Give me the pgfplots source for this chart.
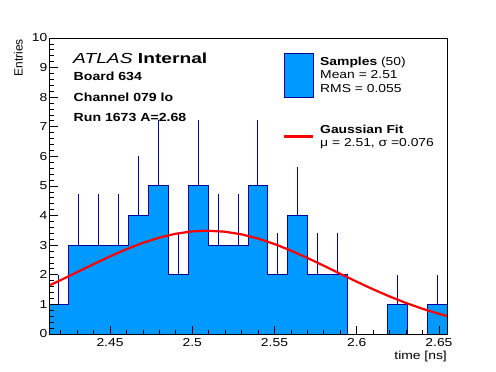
\documentclass[border=0pt]{standalone}
\usepackage{graphicx}
\usepackage{pgfplots}
\pgfplotsset{compat=1.18}
\usepackage{fontspec}
\setmainfont{Liberation Sans}[FakeStretch=1.2]
\newfontfamily\plainsans{Liberation Sans}
\definecolor{histfill}{RGB}{0,153,255}
\definecolor{histline}{RGB}{0,0,153}
\definecolor{fitred}{RGB}{255,0,0}
\pgfplotsset{
  histlegend/.style={legend image code/.code={\draw[##1] (0bp,-22bp) rectangle (29bp,22bp);}},
  fitlegend/.style={legend image code/.code={\draw[##1] (0bp,0bp) -- (29bp,0bp);}},
}
\begin{document}
\begin{tikzpicture}
\path[use as bounding box] (-49bp,-38bp) rectangle (447bp,334bp);
\begin{axis}[
  at={(0,0)}, anchor=south west,
  scale only axis, width=398bp, height=296bp,
  xmin=2.4129, xmax=2.6549, ymin=0, ymax=10,
  axis on top,
  xtick={2.45,2.5,2.55,2.6,2.65},
  xticklabels={2.45,2.5,2.55,2.6,2.65},
  minor xtick={2.42,2.43,2.44,2.46,2.47,2.48,2.49,2.51,2.52,2.53,2.54,2.56,2.57,2.58,2.59,2.61,2.62,2.63,2.64},
  ytick={0,1,2,3,4,5,6,7,8,9,10},
  yticklabels={0,1,2,3,4,5,6,7,8,9,10},
  minor y tick num=4,
  tick pos=left, tick align=inside,
  major tick length=8.5bp, minor tick length=4.5bp,
  axis line style={line width=0.8bp},
  every tick/.style={black, line width=0.8bp},
  tick label style={font=\fontsize{11.6}{12}\selectfont},
  xticklabel style={inner sep=4bp},
  yticklabel style={inner sep=1.5bp},
  legend style={at={(0.588,0.9493)}, anchor=north west, draw=none, fill=none,
    inner sep=0pt, outer sep=0pt, row sep=27bp, column sep=6bp,
    nodes={inner sep=0pt},
    cells={align=left, anchor=west},
    font=\fontsize{11.6}{13.3}\selectfont},
]
% error bars (drawn first, hidden below the bars)
\addplot[forget plot, draw=none, mark=none,
  error bars/.cd, y dir=plus, y explicit, error mark=none,
  error bar style={draw=histline, line width=1bp, solid}]
coordinates {
(2.41895,1) +- (0,1)
(2.43105,3) +- (0,1.732)
(2.44315,3) +- (0,1.732)
(2.45525,3) +- (0,1.732)
(2.46735,4) +- (0,2)
(2.47945,5) +- (0,2.236)
(2.49155,2) +- (0,1.414)
(2.50365,5) +- (0,2.236)
(2.51575,3) +- (0,1.732)
(2.52785,3) +- (0,1.732)
(2.53995,5) +- (0,2.236)
(2.55205,2) +- (0,1.414)
(2.56415,4) +- (0,1.65)
(2.57625,2) +- (0,1.414)
(2.58835,2) +- (0,1.414)
(2.62465,1) +- (0,1)
(2.64885,1) +- (0,1)
};
% histogram
\addplot[const plot, fill=histfill, draw=histline, line width=1bp, histlegend]
coordinates {
(2.4129,1) (2.4250,3) (2.4371,3) (2.4492,3) (2.4613,4) (2.4734,5) (2.4855,2)
(2.4976,5) (2.5097,3) (2.5218,3) (2.5339,5) (2.5460,2) (2.5581,4) (2.5702,2)
(2.5823,2) (2.5944,0) (2.6065,0) (2.6186,1) (2.6307,0) (2.6428,1) (2.6549,1)
} \closedcycle;
\addlegendentry{\textbf{Samples} (50)\\Mean = 2.51\\RMS = 0.055}
% Gaussian fit
\addplot[fitred, line width=2.2bp, mark=none, fitlegend]
coordinates {
(2.4129,1.636) (2.42,1.820) (2.43,2.090) (2.44,2.360) (2.45,2.622) (2.46,2.865)
(2.47,3.080) (2.48,3.257) (2.49,3.388) (2.50,3.467) (2.509,3.49) (2.52,3.455)
(2.53,3.366) (2.54,3.225) (2.55,3.040) (2.56,2.818) (2.57,2.570) (2.58,2.306)
(2.59,2.035) (2.60,1.767) (2.61,1.509) (2.62,1.268) (2.63,1.048) (2.64,0.852)
(2.65,0.681) (2.6549,0.605)
};
\addlegendentry{\textbf{Gaussian Fit}\\μ = 2.51, σ =0.076}
\end{axis}
\node[anchor=base west, inner sep=0pt] at (24bp,270.5bp) {\scalebox{1.1}[1]{\fontsize{14.6}{16}\selectfont\textit{ATLAS} \textbf{Internal}}};
\node[anchor=base west, inner sep=0pt, font=\bfseries\fontsize{11.8}{13}\selectfont] at (24.5bp,253bp) {Board 634};
\node[anchor=base west, inner sep=0pt, font=\bfseries\fontsize{11.8}{13}\selectfont] at (24.5bp,232.5bp) {Channel 079 lo};
\node[anchor=base west, inner sep=0pt, font=\bfseries\fontsize{11.8}{13}\selectfont] at (24.5bp,212bp) {Run 1673 A=2.68};
\node[anchor=base east, inner sep=0pt, font=\fontsize{11.6}{13}\selectfont] at (398bp,-25bp) {time [ns]};
\node[anchor=north east, inner sep=0pt] at (-26bp,295bp) {\rotatebox{90}{\plainsans\fontsize{12}{13}\selectfont Entries}};
\end{tikzpicture}
\end{document}
